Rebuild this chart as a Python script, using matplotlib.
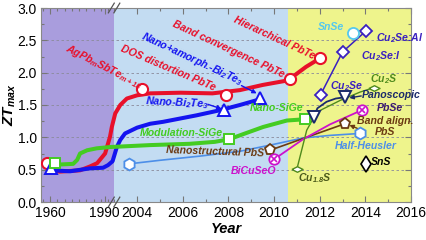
import numpy as np
import matplotlib
matplotlib.use("Agg")
import matplotlib.pyplot as plt
from matplotlib.ticker import FixedLocator

plt.rcParams['font.family'] = ['Liberation Sans', 'DejaVu Sans']
plt.rcParams['mathtext.default'] = 'regular'

# ---------------- data (year, ZTmax) ----------------
era_bounds = [1955, 1995, 2010.6, 2016]

red_curve_year = [1959.0, 1965.5, 1976.5, 1982.0, 1985.9, 1990.3, 1993.0, 1994.0,
                  2003.04, 2003.26, 2003.55, 2004.0, 2004.57, 2005.9, 2007.3, 2008.5,
                  2009.5, 2010.6, 2011.4, 2012.0]
red_curve_zt = [0.49, 0.47, 0.49, 0.55, 0.60, 0.75, 1.01, 1.16,
                1.37, 1.50, 1.60, 1.65, 1.68, 1.69, 1.68, 1.73,
                1.81, 1.88, 2.09, 2.22]
red_pts_year = [1958.2, 2004.23, 2007.9, 2010.7, 2012.02]
red_pts_zt = [0.61, 1.755, 1.65, 1.90, 2.22]

blue_curve_year = [1960.5, 1971.0, 1982.0, 1989.2, 1991.9, 1994.4, 2003.11, 2003.26,
                   2003.47, 2004.0, 2004.57, 2005.14, 2006.6, 2007.64, 2008.5, 2009.4]
blue_curve_zt = [0.49, 0.475, 0.52, 0.53, 0.57, 0.63, 0.85, 0.96,
                 1.06, 1.15, 1.21, 1.24, 1.34, 1.42, 1.50, 1.59]
blue_pts_year = [1960.55, 2007.82, 2009.39]
blue_pts_zt = [0.53, 1.42, 1.61]

green_curve_year = [1962.75, 1965.5, 1972.7, 1974.9, 1976.5, 1980.4, 1985.7, 1993.0,
                    2004.57, 2006.3, 2007.4, 2008.03, 2008.73, 2009.52, 2010.56, 2011.36]
green_curve_zt = [0.61, 0.58, 0.59, 0.65, 0.75, 0.80, 0.83, 0.85,
                  0.88, 0.90, 0.93, 0.97, 1.06, 1.16, 1.26, 1.28]
green_pts_year = [1962.75, 2008.03, 2011.36]
green_pts_zt = [0.61, 0.97, 1.28]

hh_curve_year = [2003.65, 2005.0, 2006.76, 2008.51, 2009.83, 2011.27, 2012.45, 2013.77]
hh_curve_zt = [0.59, 0.645, 0.71, 0.785, 0.88, 0.99, 1.03, 1.06]
hh_pts_year = [2003.65, 2013.77]
hh_pts_zt = [0.59, 1.06]

pbs_year = [2009.82, 2013.1]
pbs_zt = [0.80, 1.21]

bicuseo_curve_year = [2010.0, 2011.27, 2012.45, 2013.84]
bicuseo_curve_zt = [0.66, 0.97, 1.20, 1.42]
bicuseo_pts_year = [2010.0, 2013.84]
bicuseo_pts_zt = [0.66, 1.42]

cus_curve_year = [2011.0, 2011.43, 2011.87, 2012.89, 2013.77, 2014.38]
cus_curve_zt = [0.51, 1.11, 1.39, 1.57, 1.70, 1.77]
cus_pts_year = [2011.0, 2014.38]
cus_pts_zt = [0.51, 1.77]

pano_curve_year = [2011.73, 2011.9, 2012.3, 2012.7, 2013.1]
pano_curve_zt = [1.31, 1.45, 1.55, 1.60, 1.62]
pano_pts_year = [2011.73, 2013.1]
pano_pts_zt = [1.31, 1.62]

cu2se_year = [2012.04, 2013.0, 2014.01]
cu2se_zt = [1.66, 2.32, 2.64]

snse_year = [2013.47]
snse_zt = [2.62]
sns_year = [2014.01]
sns_zt = [0.59]

xtick_years = [1960, 1990, 2004, 2006, 2008, 2010, 2012, 2014, 2016]
yticks = [0.0, 0.5, 1.0, 1.5, 2.0, 2.5, 3.0]

# ---------------- colours ----------------
RED = '#e8102a'
BLUE = '#1414f0'
GREEN = '#44cc22'
HH = '#4d8fe8'
BROWN = '#6b3a12'
MAG = '#cc11cc'
OLIVE = '#4f8a1c'
NAVY = '#1a2a6a'
VIOLET = '#3a20c0'
CYAN = '#55c8ee'

# ---------------- broken x scale ----------------
R = 1.817 / 22.83
_xp = [1800.0, 1995.0, 2003.0, 2200.0]
_up = [2002.97 - 195 * R, 2002.97, 2003.0, 2200.0]


def fwd(x):
    return np.interp(np.asarray(x, float), _xp, _up)


def inv(u):
    return np.interp(np.asarray(u, float), _up, _xp)


fig = plt.figure(figsize=(4.27, 2.40), dpi=100)
ax = fig.add_axes([41 / 427, 1 - 202 / 240, 370 / 427, 194 / 240])
ax.set_xscale('function', functions=(fwd, inv))
ax.set_xlim(era_bounds[0], era_bounds[-1])
ax.set_ylim(0, 3)

ax.axvspan(era_bounds[0], era_bounds[1], color='#a99ddd', lw=0, zorder=0)
ax.axvspan(era_bounds[1], era_bounds[2], color='#c3dcf2', lw=0, zorder=0)
ax.axvspan(era_bounds[2], era_bounds[3], color='#eef48c', lw=0, zorder=0)

for yv in yticks[1:-1]:
    ax.axhline(yv, color='#8a8a9a', lw=0.6, ls=(0, (3, 3)), zorder=0.5)

# curves
ax.plot(red_curve_year, red_curve_zt, color=RED, lw=2.9, solid_capstyle='round', zorder=2)
ax.plot(blue_curve_year, blue_curve_zt, color=BLUE, lw=2.9, solid_capstyle='round', zorder=2)
ax.plot(green_curve_year, green_curve_zt, color=GREEN, lw=2.9, solid_capstyle='round', zorder=2)
ax.plot(hh_curve_year, hh_curve_zt, color=HH, lw=1.2, zorder=2)
ax.plot(pbs_year, pbs_zt, color=BROWN, lw=1.2, zorder=2)
ax.plot(bicuseo_curve_year, bicuseo_curve_zt, color=MAG, lw=1.3, zorder=2)
ax.plot(cus_curve_year, cus_curve_zt, color=OLIVE, lw=1.0, zorder=2)
ax.plot(pano_curve_year, pano_curve_zt, color=NAVY, lw=1.3, zorder=2)
ax.plot(cu2se_year, cu2se_zt, color=VIOLET, lw=1.1, zorder=2)

# markers
mk = dict(ls='none', mfc='white', zorder=4)
ax.plot(red_pts_year, red_pts_zt, marker='o', ms=8, mec=RED, mew=1.5, **mk)
ax.plot(blue_pts_year, blue_pts_zt, marker='^', ms=8, mec=BLUE, mew=1.4, **mk)
ax.plot(green_pts_year, green_pts_zt, marker='s', ms=7.5, mec=GREEN, mew=1.4, **mk)
ax.plot(hh_pts_year, hh_pts_zt, marker='h', ms=8.5, mec=HH, mew=1.3, **mk)
ax.plot(pbs_year, pbs_zt, marker='p', ms=8, mec=BROWN, mew=1.3, **mk)
ax.plot(bicuseo_pts_year, bicuseo_pts_zt, marker='o', ms=7.5, mec=MAG, mew=1.3, **mk)
ax.plot(bicuseo_pts_year, bicuseo_pts_zt, marker='x', ms=5, mec=MAG, mew=1.2, ls='none', zorder=5)
wide_diamond = [(-1, 0), (0, 0.5), (1, 0), (0, -0.5), (-1, 0)]
ax.plot(cus_pts_year, cus_pts_zt, marker=wide_diamond, ms=8, mec=OLIVE, mew=1.0, **mk)
ax.plot(pano_pts_year, pano_pts_zt, marker='v', ms=8, mec=NAVY, mew=1.4, **mk)
ax.plot(cu2se_year, cu2se_zt, marker='D', ms=6, mec=VIOLET, mew=1.3, **mk)
ax.plot(snse_year, snse_zt, marker='o', ms=8, mec=CYAN, mew=1.3, **mk)
ax.plot(sns_year, sns_zt, marker='d', ms=8, mec='black', mew=1.2, **mk)

# labels
tk = dict(fontsize=7.6, fontweight='bold', fontstyle='italic', zorder=6,
          rotation_mode='anchor')
ax.text(1989.4, 2.093, r'AgPb$_m$SbTe$_{m+18}$', color=RED, rotation=-27, ha='center', va='center', **tk)
ax.text(2005.34, 2.077, 'DOS distortion PbTe', color=RED, rotation=-23, ha='center', va='center', **tk)
ax.text(2006.39, 2.209, r'Nano+amorph.-Bi$_2$Te$_3$', color=BLUE, rotation=-25, ha='center', va='center', **tk)
ax.text(2007.99, 2.356, 'Band convergence PbTe', color=RED, rotation=-25, ha='center', va='center', **tk)
ax.text(2010.02, 2.534, 'Hierarchical PbTe', color=RED, rotation=-25, ha='center', va='center', **tk)
ax.text(2005.75, 1.53, r'Nano-Bi$_2$Te$_3$', color=BLUE, rotation=-3, ha='center', va='center', **tk)
ax.text(2005.93, 1.06, 'Modulation-SiGe', color=GREEN, ha='center', va='center', **tk)
ax.text(2010.09, 1.45, 'Nano-SiGe', color=GREEN, ha='center', va='center', **tk)
ax.text(2007.42, 0.77, 'Nanostructural PbS', color=BROWN, rotation=-2, ha='center', va='center', **tk)
ax.text(2009.08, 0.475, 'BiCuSeO', color=MAG, ha='center', va='center', **tk)
ax.text(2014.03, 0.862, 'Half-Heusler', color=HH, ha='center', va='center', **tk)
ax.text(2013.64, 1.25, 'Band align.', color=BROWN, ha='left', va='center', clip_on=False, **tk)
ax.text(2014.43, 1.084, 'PbS', color=BROWN, ha='left', va='center', **tk)
ax.text(2014.25, 0.615, 'SnS', color='black', ha='left', va='center', **tk)
ax.text(2011.05, 0.367, r'Cu$_{1.8}$S', color='#4b5a1a', ha='left', va='center', **tk)
ax.text(2014.2, 1.90, r'Cu$_2$S', color=OLIVE, ha='left', va='center', **tk)
ax.text(2012.45, 1.79, r'Cu$_2$Se', color=VIOLET, ha='left', va='center', **tk)
ax.text(2013.8, 2.26, r'Cu$_2$Se:I', color=VIOLET, ha='left', va='center', **tk)
ax.text(2014.45, 2.54, r'Cu$_2$Se:Al', color=VIOLET, ha='left', va='center', **tk)
ax.text(2011.93, 2.71, 'SnSe', color=CYAN, ha='left', va='center', **tk)
ax.text(2013.84, 1.65, 'Panoscopic', color=NAVY, ha='left', va='center', **tk)
ax.text(2014.5, 1.446, 'PbSe', color='#3a1a70', ha='left', va='center', **tk)

# arrows
ap = dict(arrowstyle='-|>', lw=1.0, mutation_scale=6, shrinkA=0, shrinkB=0)
ax.annotate('', xy=(2007.7, 1.44), xytext=(2007.1, 1.51), arrowprops=dict(color=BLUE, **ap), zorder=6)
ax.annotate('', xy=(2009.24, 1.68), xytext=(2008.57, 1.80), arrowprops=dict(color=BLUE, **ap), zorder=6)
ax.annotate('', xy=(2013.3, 1.61), xytext=(2013.82, 1.64), arrowprops=dict(color=NAVY, **ap), zorder=6)
ax.annotate('', xy=(2013.3, 1.19), xytext=(2013.64, 1.14), arrowprops=dict(color=BROWN, **ap), zorder=6)

# axes styling
ax.set_xticks(xtick_years)
ax.set_xticklabels([str(v) for v in xtick_years])
minor_x = list(range(1956, 1995, 4)) + list(range(2003, 2017))
ax.xaxis.set_minor_locator(FixedLocator(minor_x))
ax.set_yticks(yticks)
ax.set_yticklabels(['%.1f' % v for v in yticks])
ax.yaxis.set_minor_locator(FixedLocator(np.arange(0, 3.01, 0.25)))
ax.tick_params(which='both', direction='in', top=True, right=True, color='#777777',
               labelsize=10, width=0.8)
ax.tick_params(which='major', length=4, pad=3)
ax.tick_params(which='minor', length=2)
for sp in ax.spines.values():
    sp.set_color('#888888')
    sp.set_linewidth(0.8)

ax.set_xlabel('Year', fontsize=10.5, fontweight='bold', fontstyle='italic', labelpad=1)
ax.set_ylabel(r'ZT$_{max}$', fontsize=11, fontweight='bold', fontstyle='italic')
ax.yaxis.set_label_coords(-0.062, 0.5)

# axis break marks
for xf in (0.190, 0.205):
    for yf in (0.0, 1.0):
        ax.plot([xf - 0.008, xf + 0.008], [yf - 0.025, yf + 0.025], transform=ax.transAxes,
                color='#555555', lw=0.9, clip_on=False, zorder=7)

fig.savefig('out.png', dpi=100)
